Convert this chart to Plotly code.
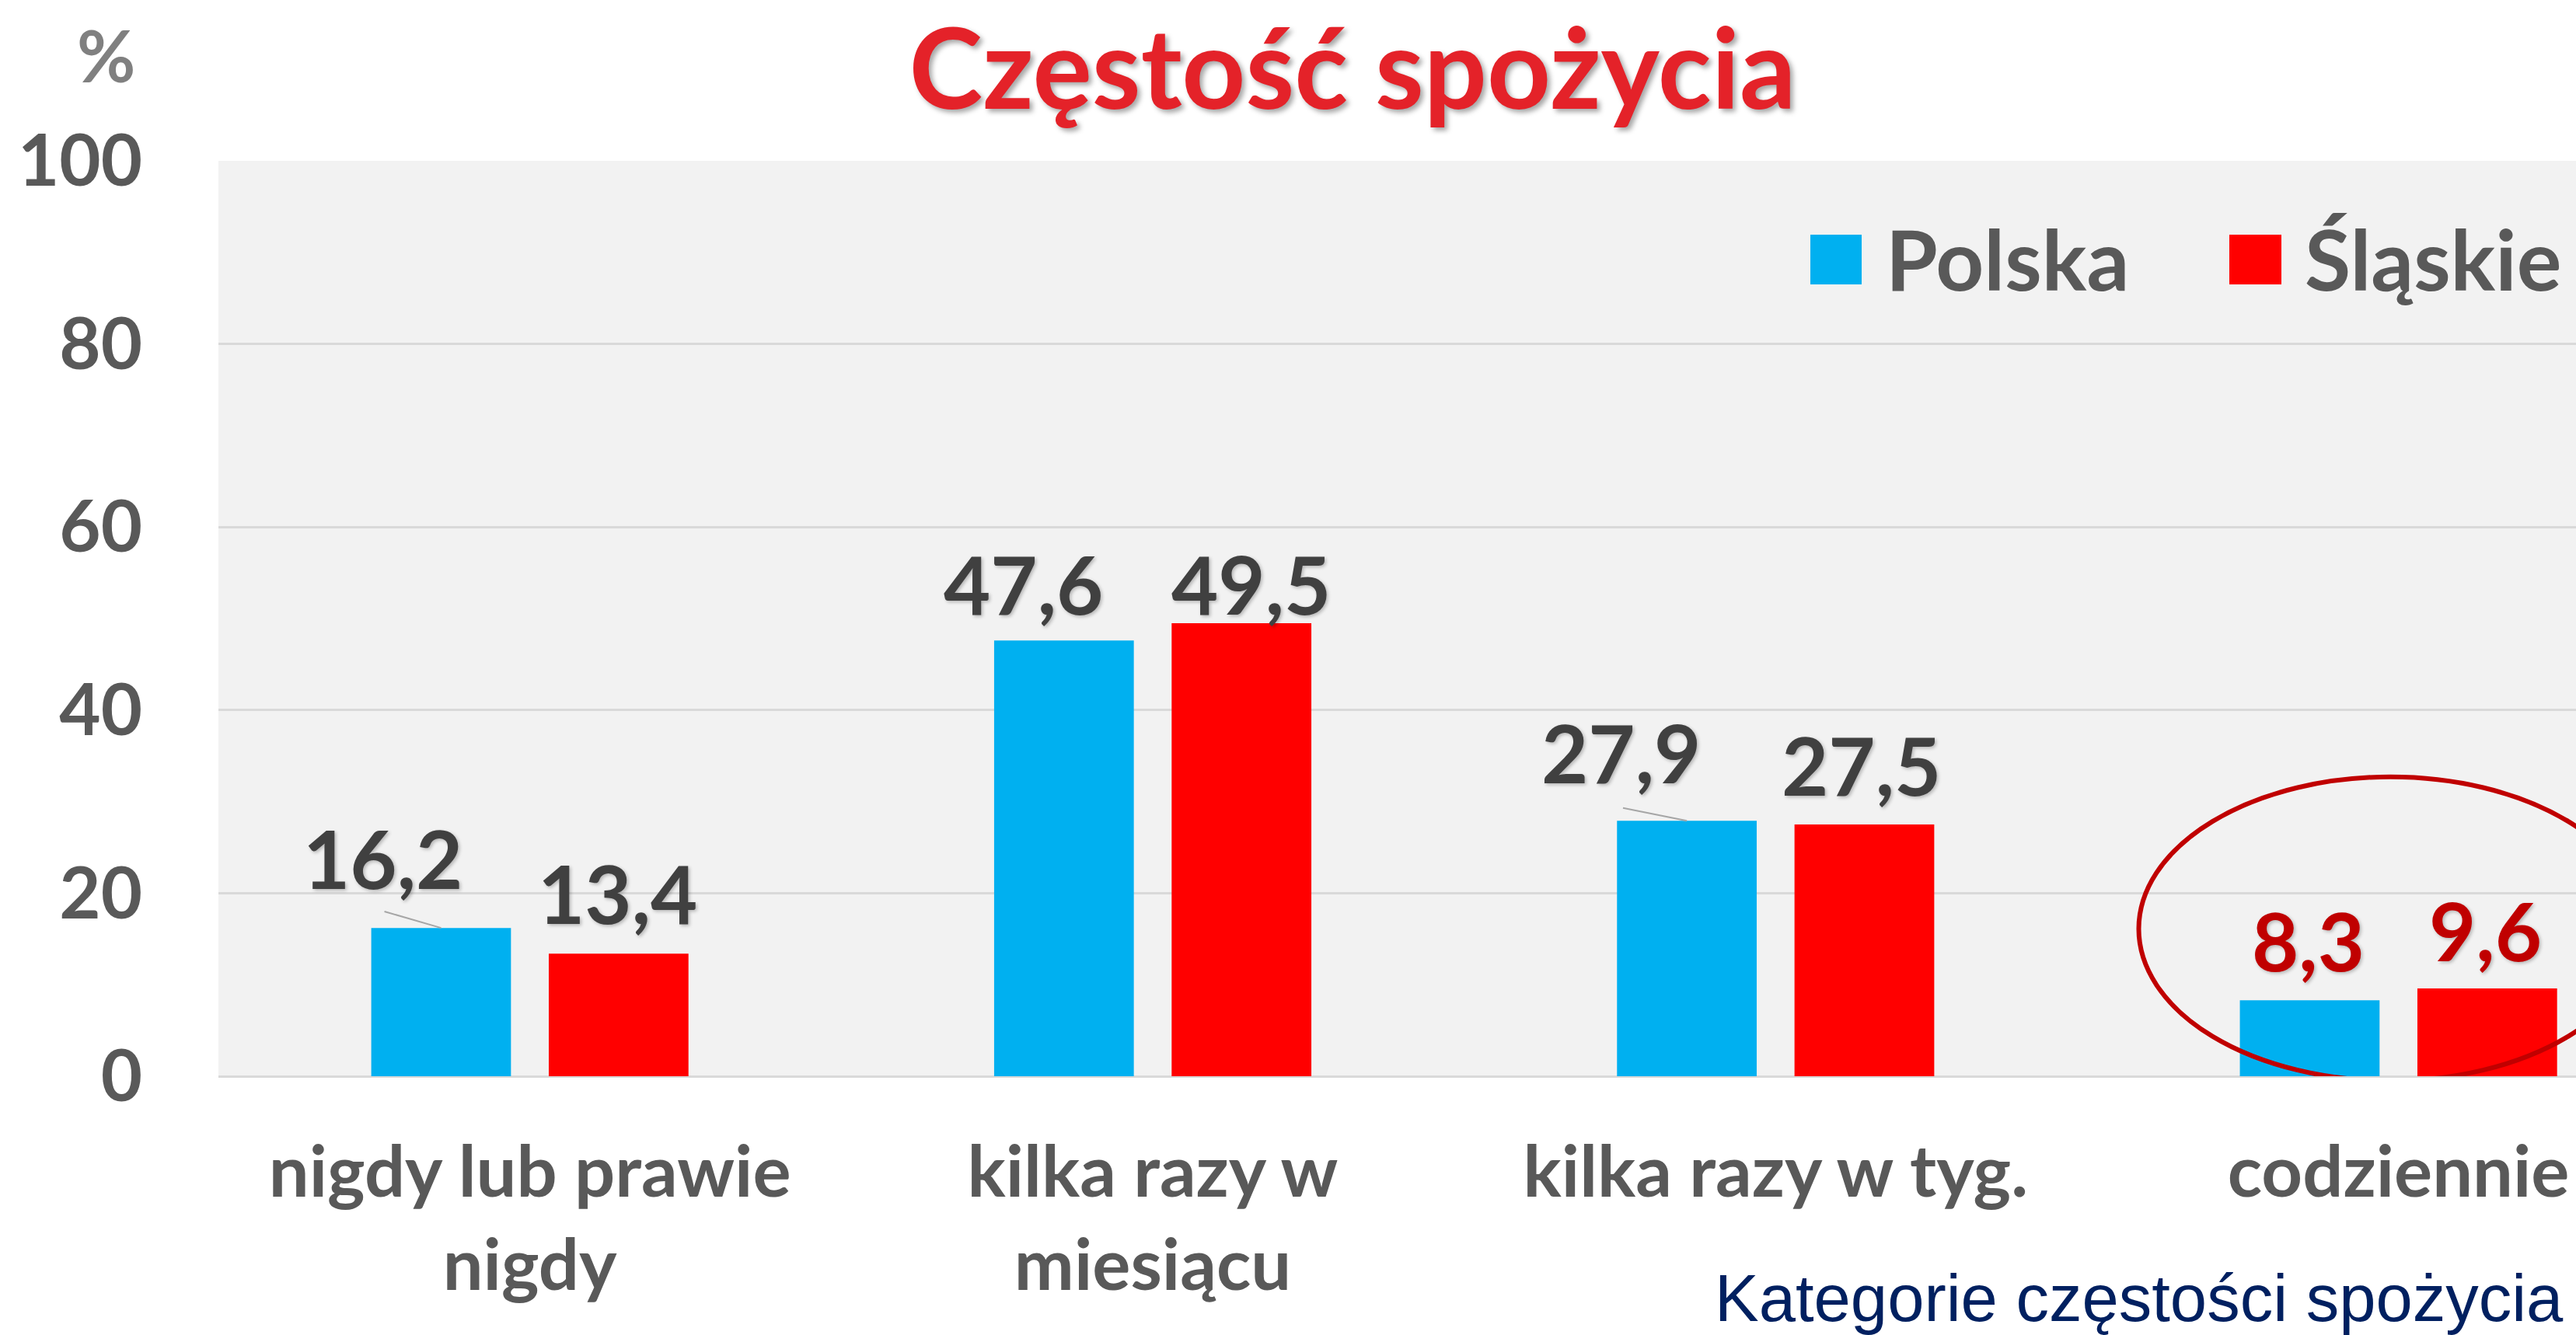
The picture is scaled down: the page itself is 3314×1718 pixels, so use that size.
import plotly.graph_objects as go

categories = ["nigdy lub prawie<br>nigdy", "kilka razy w<br>miesiącu", "kilka razy w tyg.", "codziennie"]
series_names = ["Polska", "Śląskie"]
polska = [16.2, 47.6, 27.9, 8.3]
slaskie = [13.4, 49.5, 27.5, 9.6]
y_ticks = [0, 20, 40, 60, 80, 100]

# label placement (style only)
pl_dx = [-0.236, -0.208, -0.248, -0.145]
pl_dy = [7.7, 6.3, 7.5, 6.6]
sl_dx = [0.141, 0.158, 0.137, 0.14]
sl_dy = [6.7, 4.4, 6.6, 6.4]

W, H = 3314, 1718
L, R, T, B = 281, 0, 207, 333
FONT = "Lato"
BLUE = "#00B0F0"
RED = "#FF0000"
DARKRED = "#C00000"

xs = list(range(len(categories)))
pw, ph = W - L - R, H - T - B

def px_x(x):
    return (x - L) / pw

def px_y(y):
    return (H - B - y) / ph

fig = go.Figure()
fig.add_trace(go.Bar(x=xs, y=polska, name=series_names[0], marker=dict(color=BLUE, line=dict(width=0)),
                     showlegend=False, hoverinfo="y"))
fig.add_trace(go.Bar(x=xs, y=slaskie, name=series_names[1], marker=dict(color=RED, line=dict(width=0)),
                     showlegend=False, hoverinfo="y"))

def fmt(v):
    return f"{v:.1f}".replace(".", ",")

ann = []
shadow = "2px 2px 4px rgba(0,0,0,0.25)"
for i in xs:
    col = DARKRED if i == 3 else "#404040"
    ann.append(dict(x=i + pl_dx[i], y=polska[i] + pl_dy[i], xref="x", yref="y", text=fmt(polska[i]),
                    showarrow=False, xanchor="center", yanchor="middle",
                    font=dict(family=FONT, size=104, color=col, weight="bold", shadow=shadow)))
    ann.append(dict(x=i + sl_dx[i], y=slaskie[i] + sl_dy[i], xref="x", yref="y", text=fmt(slaskie[i]),
                    showarrow=False, xanchor="center", yanchor="middle",
                    font=dict(family=FONT, size=104, color=col, weight="bold", shadow=shadow)))

# "%" unit label
ann.append(dict(x=px_x(136), y=px_y(70), xref="paper", yref="paper", text="%", showarrow=False,
                xanchor="center", yanchor="middle",
                font=dict(family=FONT, size=92, color="#808080", weight="bold")))
# axis title
ann.append(dict(x=px_x(3300), y=px_y(1670), xref="paper", yref="paper", text="Kategorie częstości spożycia",
                showarrow=False, xanchor="right", yanchor="middle",
                font=dict(family="Liberation Sans", size=85, color="#002060")))
# legend text
ann.append(dict(x=px_x(2424), y=px_y(332), xref="paper", yref="paper", text=series_names[0], showarrow=False,
                xanchor="left", yanchor="middle", font=dict(family=FONT, size=108, color="#595959", weight="bold")))
ann.append(dict(x=px_x(2963), y=px_y(332), xref="paper", yref="paper", text=series_names[1], showarrow=False,
                xanchor="left", yanchor="middle", font=dict(family=FONT, size=108, color="#595959", weight="bold")))

shapes = [
    dict(type="rect", xref="paper", yref="paper", x0=px_x(2329), x1=px_x(2395), y0=px_y(366), y1=px_y(302),
         fillcolor=BLUE, line=dict(width=0)),
    dict(type="rect", xref="paper", yref="paper", x0=px_x(2868), x1=px_x(2935), y0=px_y(366), y1=px_y(302),
         fillcolor=RED, line=dict(width=0)),
    # leader lines
    dict(type="line", xref="x", yref="y", x0=-0.2335, y0=18.0, x1=-0.1425, y1=polska[0],
         line=dict(color="#A6A6A6", width=2)),
    dict(type="line", xref="x", yref="y", x0=1.755, y0=29.3, x1=1.8575, y1=polska[2],
         line=dict(color="#A6A6A6", width=2)),
    # highlight ellipse
    dict(type="circle", xref="x", yref="y", x0=2.583, x1=3.391, y0=-0.5, y1=32.7,
         line=dict(color=DARKRED, width=6), fillcolor="rgba(0,0,0,0)"),
]

fig.update_layout(
    width=W, height=H,
    margin=dict(l=L, r=R, t=T, b=B, pad=0),
    paper_bgcolor="white", plot_bgcolor="#F2F2F2",
    barmode="group", bargap=0.43, bargroupgap=0.213,
    title=dict(text="Częstość spożycia", x=1740 / W, xanchor="center", y=1 - 90 / H, yanchor="middle",
               font=dict(family=FONT, size=143, color="#E42229", weight="bold",
                         shadow="4px 4px 6px rgba(0,0,0,0.35)")),
    annotations=ann, shapes=shapes,
    xaxis=dict(range=[-0.5, 3.285], tickvals=xs, ticktext=categories, showgrid=False, zeroline=False,
               showline=False, ticks="", ticklabelstandoff=62,
               tickfont=dict(family=FONT, size=92, color="#595959", weight="bold")),
    yaxis=dict(range=[0, 100], tickvals=y_ticks, showgrid=True, gridcolor="#D9D9D9", gridwidth=3,
               zeroline=True, zerolinecolor="#D9D9D9", zerolinewidth=3, showline=False, ticks="",
               ticklabelstandoff=97,
               tickfont=dict(family=FONT, size=92, color="#595959", weight="bold")),
    showlegend=False,
)

fig.write_html("out.html", config={"displayModeBar": False},
               post_script="document.body.style.margin='0px';document.body.style.overflow='hidden';")
